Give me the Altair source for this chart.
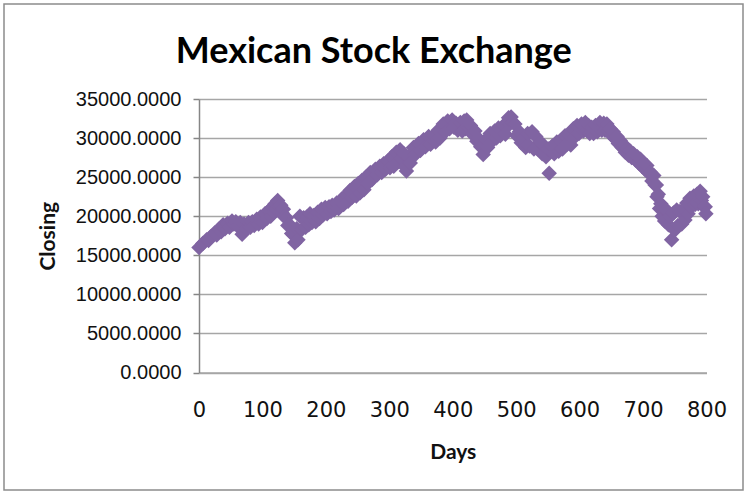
import altair as alt
import pandas as pd

days = [0, 6, 12, 15, 19, 25, 28, 32, 35, 38, 41, 45, 48, 52, 55, 58, 61, 65, 68, 71, 74, 78, 81, 84, 87,
        91, 94, 97, 100, 104, 107, 110, 113, 115, 118, 120, 122, 124, 126, 129, 131, 133, 135, 138, 140,
        143, 146, 149, 151, 154, 156, 159, 162, 165, 168, 170, 173, 175, 178, 181, 184, 187, 190, 193, 196,
        199, 202, 205, 208, 210, 213, 217, 220, 225, 228, 232, 235, 238, 241, 245, 248, 251, 254, 257, 260,
        263, 266, 270, 273, 278, 281, 285, 288, 291, 294, 298, 301, 304, 307, 311, 314, 317, 320, 323, 325,
        327, 330, 333, 338, 341, 346, 349, 354, 357, 362, 365, 370, 373, 377, 380, 385, 388, 392, 395, 399,
        402, 405, 408, 412, 415, 418, 420, 422, 425, 428, 431, 435, 438, 441, 444, 446, 448, 452, 455, 459,
        462, 466, 469, 472, 475, 480, 483, 488, 490, 492, 495, 498, 501, 505, 508, 512, 515, 518, 521, 525,
        528, 531, 534, 538, 541, 544, 547, 551, 552, 557, 560, 564, 567, 570, 573, 577, 580, 583, 586, 590,
        593, 596, 599, 603, 606, 609, 611, 614, 616, 619, 622, 625, 628, 632, 635, 638, 640, 643, 645, 648,
        650, 653, 656, 659, 661, 664, 667, 670, 672, 675, 677, 680, 682, 685, 688, 691, 693, 696, 698, 701,
        703, 706, 709, 712, 714, 717, 719, 721, 722, 724, 726, 728, 730, 732, 734, 737, 740, 743, 745, 748,
        750, 753, 755, 758, 761, 764, 766, 769, 771, 774, 776, 780, 782, 785, 787, 790, 792, 794, 796, 798,
        799]

closing = [16000, 16500, 17000, 16900, 17400, 17900, 17600, 18400, 18000, 18900, 18400, 19100, 18600, 19400,
           19000, 19300, 18700, 19200, 17700, 19000, 18400, 19200, 18600, 19300, 18800, 19600, 19000, 19900,
           19200, 20300, 19700, 20700, 20000, 21100, 20500, 21600, 20900, 22000, 21200, 21400, 20400, 20900,
           19900, 19800, 18800, 18900, 17800, 17600, 16600, 18400, 17000, 20000, 18300, 19800, 18600, 19900,
           18900, 20300, 19200, 20100, 19300, 20500, 19700, 20900, 20200, 21100, 20300, 21200, 20600, 21400,
           20800, 21700, 21000, 22200, 21500, 22700, 21900, 23300, 22400, 23800, 22600, 24200, 23000, 24600,
           23400, 25000, 24200, 25600, 24700, 26000, 25300, 26400, 25600, 26700, 26000, 27100, 26200, 27600,
           26400, 28200, 27000, 28500, 27400, 28000, 26300, 25800, 27600, 26800, 28800, 27900, 29300, 28400,
           29800, 28900, 30200, 29200, 30300, 29500, 31000, 30000, 31800, 30800, 32200, 31200, 32300, 31400,
           31900, 31000, 32000, 30900, 32200, 31200, 32300, 31400, 31600, 30500, 30900, 29600, 29900, 28900,
           29000, 27900, 29800, 28800, 30600, 29600, 30900, 30000, 31300, 30300, 31600, 30500, 32600, 31800,
           32700, 32000, 31800, 30300, 30800, 29400, 30000, 28800, 30600, 29000, 30800, 28600, 30200, 28600,
           29500, 28000, 29000, 27600, 28600, 25500, 29000, 28000, 29500, 28300, 29700, 28600, 30300, 29200,
           30500, 29100, 31200, 30200, 31600, 30600, 31800, 30900, 32000, 31000, 31600, 30600, 31400, 30600,
           31600, 30800, 32000, 31000, 31900, 31000, 31800, 30900, 31200, 30400, 30800, 29900, 30200, 29300,
           29700, 28800, 29100, 28200, 28600, 27800, 28300, 27500, 28000, 27200, 27600, 26800, 27300, 26400,
           26800, 26000, 26500, 25500, 25600, 24500, 25200, 24000, 24000, 22500, 22800, 21000, 21600, 20000,
           21000, 19400, 20800, 18900, 20000, 17000, 20400, 18200, 20800, 18800, 20600, 19000, 20900, 19500,
           21700, 20300, 22300, 21200, 22600, 21500, 22800, 21600, 23200, 22000, 22500, 21200, 21200, 20300]

y_ticks = [0, 5000, 10000, 15000, 20000, 25000, 30000, 35000]
x_ticks = [0, 100, 200, 300, 400, 500, 600, 700, 800]

title_text = "Mexican Stock Exchange"
x_title = "Days"
y_title = "Closing"

df = pd.DataFrame({"Days": days, "Closing": closing})

TITLEF = "Lato, sans-serif"
XLAB = "DejaVu Sans, sans-serif"
REG = "Liberation Sans, Arial, sans-serif"

points = alt.Chart(df).mark_point(
    shape="diamond", filled=True, size=240, color="#8064A2", opacity=1
).encode(
    x=alt.X("Days:Q", scale=alt.Scale(domain=[0, 800], nice=False, zero=False),
            axis=alt.Axis(values=x_ticks, title=x_title, grid=False, ticks=False,
                          domain=True, domainColor="#a6a6a6", domainWidth=1.5,
                          labelFont=XLAB, labelFontSize=21, labelColor="#111",
                          labelPadding=27, labelFlush=False,
                          titleFont=TITLEF, titleFontSize=21, titleFontWeight="bold",
                          titleColor="#111", titlePadding=21)),
    y=alt.Y("Closing:Q", scale=alt.Scale(domain=[0, 35000], nice=False),
            axis=alt.Axis(values=y_ticks, format=".4f", title=y_title, grid=True,
                          gridColor="#a6a6a6", gridWidth=1.5,
                          domain=True, domainColor="#868686", domainWidth=1.5,
                          ticks=True, tickSize=6, tickColor="#868686", tickWidth=1.5,
                          labelFont=REG, labelFontSize=20, labelColor="#111",
                          labelPadding=12,
                          titleFont=TITLEF, titleFontSize=21, titleFontWeight="bold",
                          titleColor="#111", titlePadding=17))
)

border = alt.Chart(pd.DataFrame({"k": [0]})).mark_rect(
    fillOpacity=0, stroke="#8c8c8c", strokeWidth=1.5
).encode(
    x=alt.value(-195), x2=alt.value(544), y=alt.value(-95), y2=alt.value(391)
)

chart = alt.layer(border, points).properties(
    width=507.5,
    height=273.5,
    padding={"left": 199, "top": 99, "right": 41.5, "bottom": 121.5},
    autosize=alt.AutoSizeParams(type="none"),
    background="white",
    title=alt.TitleParams(title_text, font=TITLEF, fontSize=36, fontWeight="bold",
                          color="#000", anchor="middle", dx=-79, offset=-68),
).configure_view(strokeWidth=0)

chart.save("out.html", embed_options={"renderer": "svg", "actions": False})
